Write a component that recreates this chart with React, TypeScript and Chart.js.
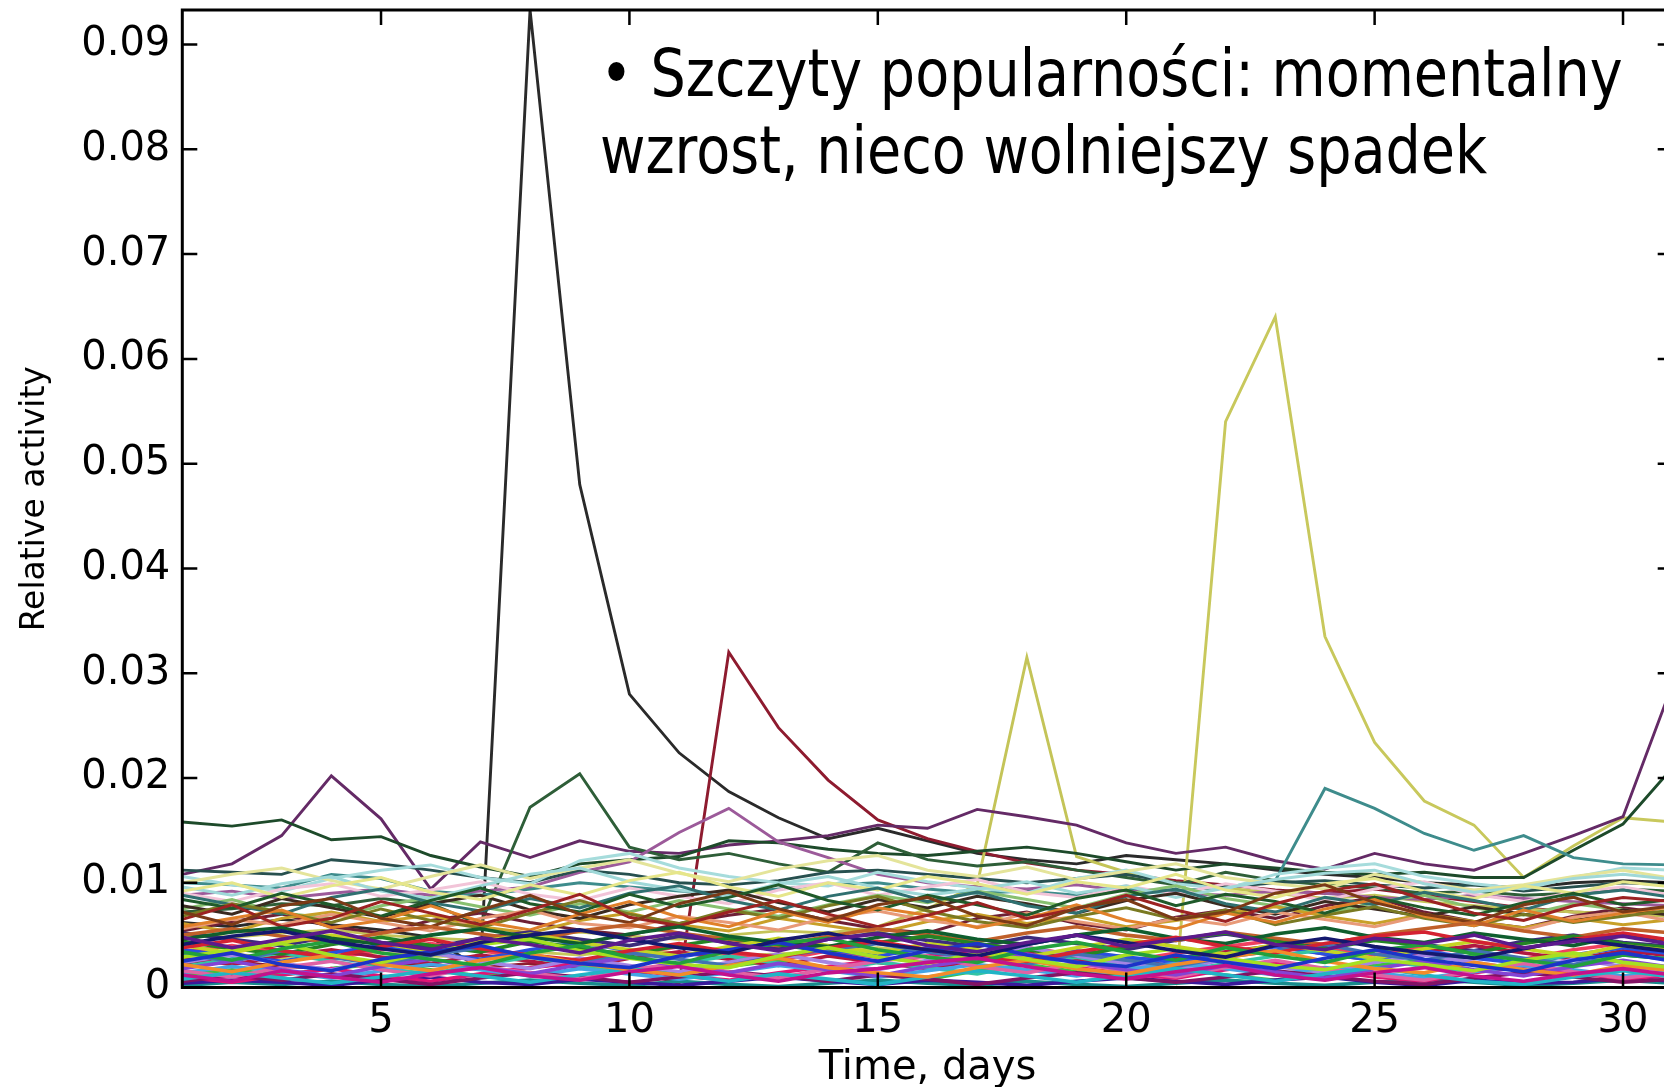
import { useEffect, useRef } from "react";
import { Chart, registerables } from "chart.js";

Chart.register(...registerables);

// ---------- axes ----------
const days = [1, 2, 3, 4, 5, 6, 7, 8, 9, 10, 11, 12, 13, 14, 15, 16, 17, 18, 19, 20, 21, 22, 23, 24, 25, 26, 27, 28, 29, 30, 31];
const xTickValues = [5, 10, 15, 20, 25, 30];
const yTickValues = [0, 0.01, 0.02, 0.03, 0.04, 0.05, 0.06, 0.07, 0.08, 0.09];
const yTickLabels = ["0", "0.01", "0.02", "0.03", "0.04", "0.05", "0.06", "0.07", "0.08", "0.09"];
const xMin = 1;
const xMax = 31;
const yMin = 0;
const yMax = 0.0933;
const xTitle = "Time, days";
const yTitle = "Relative activity";
const noteLines = ["• Szczyty popularności: momentalny", "wzrost, nieco wolniejszy spadek"];

// ---------- prominent series ----------
const peakDay8 = [.0062, .0058, .0065, .0060, .0055, .0048, .0018, .0933, .0480, .0280, .0224, .0187, .0162, .0142, .0152, .0140, .0128, .0122, .0118, .0126, .0122, .0118, .0112, .0108, .0105, .0100, .0098, .0095, .0100, .0102, .0100];
const peakDay12 = [.0022, .0025, .0020, .0018, .0024, .0021, .0019, .0023, .0020, .0017, .0004, .0320, .0248, .0198, .0160, .0142, .0130, .0119, .0112, .0108, .0102, .0098, .0093, .0090, .0094, .0088, .0082, .0076, .0072, .0070, .0068];
const peakDay18 = [.0050, .0048, .0052, .0055, .0050, .0047, .0045, .0050, .0053, .0049, .0046, .0050, .0054, .0052, .0058, .0075, .0098, .0315, .0125, .0110, .0100, .0095, .0090, .0085, .0088, .0082, .0078, .0075, .0072, .0070, .0068];
const peakDay23 = [.0030, .0032, .0028, .0035, .0033, .0030, .0029, .0034, .0031, .0036, .0033, .0030, .0032, .0035, .0038, .0034, .0031, .0036, .0033, .0030, .0004, .0540, .0640, .0335, .0234, .0178, .0155, .0105, .0135, .0162, .0158];
const purpleLine = [.0108, .0118, .0145, .0202, .0161, .0094, .0139, .0124, .0140, .0130, .0128, .0136, .0140, .0145, .0155, .0152, .0170, .0163, .0155, .0138, .0128, .0134, .0121, .0113, .0128, .0118, .0112, .0128, .0145, .0163, .0290];
const darkGreenTop = [.0158, .0154, .0160, .0141, .0144, .0126, .0115, .0106, .0118, .0122, .0125, .0140, .0138, .0132, .0128, .0126, .0130, .0134, .0128, .0120, .0112, .0118, .0114, .0110, .0108, .0110, .0105, .0105, .0131, .0156, .0210];
const greenPeak9 = [.0072, .0075, .0080, .0078, .0085, .0080, .0060, .0172, .0204, .0134, .0122, .0128, .0118, .0110, .0138, .0122, .0116, .0120, .0112, .0105, .0098, .0110, .0102, .0098, .0095, .0090, .0092, .0088, .0090, .0094, .0092];
const tealPeak24 = [.0100, .0098, .0095, .0108, .0104, .0092, .0088, .0094, .0100, .0096, .0092, .0090, .0094, .0098, .0100, .0094, .0090, .0092, .0088, .0094, .0092, .0096, .0102, .0190, .0171, .0147, .0131, .0145, .0124, .0118, .0117];
const violetPeak12 = [.0088, .0092, .0085, .0090, .0094, .0088, .0092, .0096, .0110, .0120, .0148, .0171, .0139, .0124, .0108, .0100, .0096, .0094, .0098, .0092, .0090, .0088, .0092, .0090, .0086, .0084, .0088, .0085, .0082, .0080, .0078];
const darkTealLine = [.0112, .0110, .0108, .0122, .0118, .0112, .0105, .0100, .0112, .0108, .0100, .0098, .0102, .0110, .0112, .0108, .0104, .0100, .0104, .0108, .0100, .0096, .0100, .0102, .0098, .0095, .0098, .0092, .0096, .0100, .0098];

const prominentSeries = [darkTealLine, violetPeak12, tealPeak24, greenPeak9, darkGreenTop, purpleLine, peakDay18, peakDay23, peakDay12, peakDay8];
const prominentColors = ["#27504f", "#9c5a9a", "#3e8c8c", "#2e5e38", "#1d4a2a", "#642a66", "#c4c458", "#c8c85c", "#8e1b2f", "#2a2a2a"];

// ---------- background band (upper part, ~0.005-0.013) ----------
const upperBand = [
  [.0072, .0060, .0078, .0085, .0066, .0058, .0074, .0088, .0070, .0062, .0080, .0091, .0075, .0064, .0079, .0086, .0068, .0059, .0076, .0084, .0065, .0072, .0090, .0098, .0081, .0070, .0062, .0079, .0086, .0072, .0078],
  [.0065, .0079, .0058, .0066, .0082, .0071, .0060, .0074, .0089, .0067, .0059, .0072, .0083, .0070, .0058, .0069, .0081, .0066, .0075, .0088, .0074, .0063, .0080, .0092, .0099, .0084, .0071, .0064, .0078, .0086, .0082],
  [.0058, .0066, .0074, .0057, .0064, .0078, .0063, .0055, .0070, .0082, .0067, .0058, .0073, .0062, .0076, .0069, .0057, .0066, .0079, .0064, .0056, .0071, .0062, .0075, .0084, .0068, .0059, .0074, .0063, .0071, .0077],
  [.0084, .0076, .0090, .0079, .0068, .0083, .0095, .0080, .0072, .0089, .0077, .0086, .0098, .0083, .0074, .0088, .0079, .0069, .0085, .0093, .0078, .0089, .0082, .0071, .0086, .0076, .0069, .0081, .0090, .0079, .0084],
  [.0068, .0080, .0072, .0062, .0075, .0064, .0057, .0071, .0083, .0070, .0061, .0074, .0066, .0078, .0087, .0073, .0063, .0057, .0068, .0076, .0065, .0074, .0060, .0069, .0077, .0066, .0059, .0070, .0062, .0068, .0074],
  [.0088, .0079, .0070, .0086, .0094, .0081, .0073, .0085, .0076, .0090, .0097, .0083, .0074, .0087, .0095, .0082, .0091, .0078, .0071, .0087, .0094, .0080, .0072, .0086, .0079, .0091, .0083, .0074, .0088, .0093, .0086],
  [.0056, .0065, .0060, .0070, .0062, .0054, .0066, .0074, .0061, .0057, .0068, .0062, .0055, .0067, .0073, .0064, .0058, .0071, .0063, .0056, .0066, .0060, .0072, .0065, .0058, .0069, .0061, .0055, .0067, .0072, .0063],
  [.0092, .0100, .0086, .0097, .0105, .0091, .0084, .0098, .0088, .0102, .0110, .0096, .0087, .0100, .0093, .0106, .0099, .0089, .0101, .0095, .0108, .0093, .0086, .0099, .0104, .0092, .0085, .0097, .0090, .0101, .0096],
  [.0078, .0070, .0085, .0076, .0067, .0080, .0088, .0074, .0066, .0079, .0087, .0093, .0081, .0072, .0084, .0076, .0087, .0080, .0071, .0083, .0090, .0078, .0070, .0082, .0075, .0068, .0077, .0070, .0063, .0074, .0069],
  [.0096, .0088, .0099, .0106, .0092, .0085, .0097, .0108, .0114, .0101, .0093, .0087, .0099, .0106, .0095, .0088, .0094, .0101, .0090, .0097, .0086, .0095, .0103, .0109, .0112, .0099, .0091, .0096, .0104, .0108, .0103],
  [.0061, .0053, .0066, .0072, .0063, .0069, .0058, .0052, .0064, .0071, .0060, .0054, .0066, .0059, .0052, .0063, .0070, .0061, .0068, .0058, .0064, .0071, .0077, .0068, .0061, .0070, .0063, .0057, .0066, .0060, .0065],
  [.0075, .0084, .0071, .0066, .0078, .0086, .0077, .0069, .0080, .0072, .0083, .0075, .0068, .0079, .0088, .0081, .0092, .0084, .0076, .0089, .0097, .0085, .0078, .0070, .0081, .0088, .0076, .0069, .0080, .0074, .0070],
  [.0090, .0082, .0094, .0099, .0087, .0093, .0101, .0089, .0083, .0095, .0087, .0080, .0093, .0100, .0088, .0096, .0103, .0091, .0086, .0097, .0089, .0099, .0092, .0083, .0094, .0101, .0089, .0082, .0091, .0096, .0088],
  [.0054, .0063, .0070, .0058, .0052, .0064, .0071, .0062, .0055, .0050, .0061, .0069, .0075, .0064, .0056, .0052, .0066, .0072, .0061, .0055, .0067, .0074, .0066, .0078, .0086, .0072, .0063, .0057, .0068, .0076, .0070],
  [.0100, .0108, .0114, .0102, .0094, .0106, .0117, .0104, .0114, .0122, .0109, .0101, .0113, .0121, .0126, .0112, .0106, .0115, .0103, .0111, .0118, .0105, .0099, .0094, .0108, .0100, .0093, .0098, .0106, .0112, .0104],
  [.0106, .0098, .0092, .0104, .0112, .0117, .0105, .0099, .0121, .0128, .0114, .0106, .0100, .0097, .0110, .0101, .0095, .0090, .0104, .0112, .0099, .0094, .0108, .0114, .0118, .0106, .0099, .0094, .0105, .0114, .0112],
];
const upperColors = ["#7b3a16", "#9c2222", "#e0802a", "#1f5a2a", "#7a7a22", "#2f7070", "#e89a78", "#e6e68a", "#3b2a20", "#9fd8d8", "#c8a028", "#88c070", "#f2c4d8", "#6e1f35", "#e4e49a", "#a6dcdc"];

// ---------- background band (lower part, 0-0.006) ----------
const lowerBand = [
  [.0048, .0038, .0046, .0054, .0043, .0036, .0047, .0041, .0033, .0045, .0052, .0042, .0035, .0046, .0051, .0040, .0034, .0043, .0050, .0039, .0046, .0053, .0041, .0036, .0047, .0042, .0050, .0038, .0044, .0049, .0041],
  [.0012, .0006, .0016, .0010, .0005, .0013, .0019, .0011, .0007, .0015, .0020, .0012, .0006, .0014, .0018, .0024, .0028, .0020, .0013, .0008, .0015, .0021, .0012, .0007, .0014, .0019, .0011, .0006, .0013, .0018, .0012],
  [.0041, .0049, .0054, .0044, .0037, .0031, .0043, .0050, .0055, .0046, .0038, .0033, .0045, .0052, .0042, .0036, .0030, .0041, .0050, .0043, .0035, .0029, .0040, .0047, .0039, .0033, .0028, .0037, .0046, .0040, .0034],
  [.0025, .0033, .0022, .0016, .0027, .0034, .0040, .0029, .0023, .0019, .0030, .0036, .0043, .0033, .0025, .0035, .0042, .0031, .0024, .0020, .0031, .0024, .0018, .0028, .0036, .0027, .0021, .0015, .0026, .0033, .0025],
  [.0034, .0026, .0037, .0044, .0033, .0027, .0021, .0033, .0040, .0029, .0023, .0035, .0042, .0047, .0036, .0029, .0024, .0036, .0043, .0034, .0026, .0038, .0030, .0024, .0035, .0041, .0032, .0026, .0020, .0031, .0027],
  [.0029, .0036, .0042, .0031, .0024, .0034, .0041, .0046, .0035, .0028, .0022, .0019, .0030, .0038, .0029, .0023, .0033, .0027, .0020, .0031, .0037, .0028, .0021, .0017, .0027, .0022, .0016, .0026, .0033, .0024, .0019],
  [.0022, .0015, .0024, .0031, .0022, .0016, .0026, .0032, .0023, .0017, .0012, .0021, .0028, .0019, .0014, .0010, .0019, .0026, .0018, .0013, .0022, .0029, .0035, .0025, .0018, .0014, .0024, .0017, .0012, .0021, .0016],
  [.0038, .0045, .0035, .0029, .0039, .0046, .0037, .0031, .0026, .0035, .0042, .0034, .0029, .0038, .0044, .0036, .0030, .0025, .0034, .0041, .0048, .0039, .0033, .0042, .0049, .0053, .0044, .0037, .0046, .0052, .0045],
  [.0046, .0053, .0057, .0047, .0041, .0050, .0056, .0048, .0042, .0051, .0058, .0049, .0043, .0039, .0048, .0054, .0046, .0041, .0050, .0056, .0047, .0042, .0051, .0057, .0048, .0043, .0052, .0046, .0040, .0050, .0045],
  [.0008, .0014, .0009, .0004, .0010, .0016, .0011, .0005, .0012, .0018, .0012, .0006, .0013, .0008, .0003, .0010, .0016, .0011, .0005, .0012, .0018, .0012, .0006, .0013, .0019, .0012, .0006, .0003, .0010, .0016, .0010],
  [.0018, .0025, .0017, .0011, .0020, .0027, .0019, .0013, .0022, .0029, .0020, .0014, .0023, .0017, .0011, .0020, .0027, .0032, .0024, .0017, .0012, .0021, .0015, .0009, .0018, .0025, .0017, .0011, .0020, .0026, .0019],
  [.0016, .0010, .0019, .0025, .0017, .0011, .0020, .0014, .0008, .0017, .0023, .0015, .0009, .0018, .0025, .0030, .0020, .0014, .0023, .0016, .0010, .0019, .0026, .0018, .0012, .0007, .0016, .0023, .0015, .0009, .0014],
  [.0032, .0025, .0035, .0029, .0022, .0031, .0038, .0030, .0024, .0033, .0027, .0021, .0030, .0036, .0042, .0034, .0028, .0022, .0032, .0026, .0020, .0029, .0035, .0041, .0032, .0026, .0035, .0028, .0022, .0031, .0027],
  [.0006, .0011, .0007, .0013, .0008, .0003, .0009, .0014, .0010, .0005, .0010, .0015, .0011, .0006, .0012, .0008, .0003, .0009, .0014, .0009, .0005, .0010, .0016, .0011, .0006, .0003, .0009, .0014, .0010, .0005, .0008],
  [.0014, .0020, .0015, .0009, .0016, .0022, .0017, .0011, .0018, .0013, .0008, .0014, .0021, .0016, .0010, .0016, .0022, .0017, .0011, .0017, .0023, .0018, .0012, .0019, .0014, .0009, .0015, .0021, .0017, .0011, .0015],
  [.0040, .0033, .0043, .0050, .0042, .0035, .0044, .0051, .0043, .0036, .0030, .0039, .0047, .0040, .0033, .0042, .0036, .0029, .0038, .0046, .0039, .0032, .0041, .0035, .0028, .0037, .0044, .0037, .0030, .0040, .0035],
  [.0024, .0031, .0023, .0017, .0026, .0033, .0025, .0018, .0028, .0021, .0015, .0024, .0032, .0024, .0017, .0026, .0033, .0038, .0030, .0023, .0017, .0027, .0020, .0014, .0024, .0031, .0024, .0017, .0027, .0020, .0016],
  [.0010, .0005, .0012, .0018, .0011, .0006, .0013, .0019, .0024, .0017, .0011, .0007, .0014, .0020, .0026, .0030, .0034, .0026, .0019, .0013, .0009, .0017, .0023, .0016, .0010, .0006, .0014, .0020, .0014, .0008, .0012],
  [.0044, .0037, .0032, .0041, .0048, .0040, .0034, .0044, .0038, .0031, .0040, .0047, .0041, .0034, .0043, .0049, .0042, .0036, .0030, .0039, .0046, .0052, .0044, .0037, .0045, .0040, .0033, .0042, .0049, .0042, .0038],
  [.0020, .0027, .0033, .0025, .0018, .0013, .0022, .0029, .0021, .0015, .0023, .0030, .0023, .0016, .0024, .0019, .0013, .0022, .0029, .0021, .0015, .0023, .0030, .0036, .0027, .0020, .0015, .0024, .0031, .0024, .0019],
  [.0004, .0007, .0005, .0002, .0007, .0010, .0005, .0003, .0008, .0005, .0002, .0006, .0010, .0006, .0003, .0007, .0005, .0002, .0006, .0009, .0006, .0003, .0007, .0010, .0005, .0002, .0007, .0004, .0005, .0009, .0006],
  [.0050, .0056, .0049, .0043, .0052, .0058, .0051, .0045, .0054, .0060, .0052, .0046, .0040, .0049, .0056, .0050, .0044, .0052, .0058, .0050, .0045, .0053, .0047, .0041, .0050, .0056, .0062, .0054, .0048, .0056, .0052],
  [.0036, .0030, .0025, .0033, .0040, .0033, .0027, .0036, .0043, .0035, .0029, .0037, .0044, .0036, .0030, .0038, .0032, .0026, .0035, .0029, .0024, .0032, .0039, .0032, .0026, .0035, .0028, .0023, .0031, .0038, .0032],
  [.0028, .0022, .0030, .0036, .0029, .0023, .0031, .0025, .0019, .0028, .0034, .0027, .0021, .0030, .0024, .0018, .0026, .0033, .0026, .0020, .0028, .0034, .0040, .0032, .0026, .0034, .0040, .0033, .0027, .0035, .0030],
  [.0012, .0017, .0012, .0018, .0023, .0017, .0011, .0019, .0025, .0018, .0013, .0020, .0026, .0019, .0013, .0008, .0016, .0022, .0015, .0010, .0018, .0012, .0007, .0015, .0021, .0026, .0030, .0022, .0016, .0011, .0016],
  [.0052, .0046, .0040, .0049, .0043, .0038, .0047, .0053, .0046, .0040, .0049, .0043, .0037, .0046, .0052, .0045, .0039, .0048, .0042, .0036, .0045, .0051, .0044, .0038, .0047, .0041, .0035, .0044, .0050, .0043, .0039],
  [.0034, .0040, .0033, .0027, .0036, .0042, .0035, .0029, .0023, .0032, .0039, .0032, .0026, .0035, .0029, .0024, .0032, .0038, .0031, .0025, .0033, .0039, .0045, .0038, .0031, .0039, .0033, .0027, .0036, .0042, .0036],
  [.0002, .0005, .0003, .0006, .0003, .0001, .0004, .0007, .0004, .0002, .0006, .0003, .0001, .0004, .0007, .0004, .0002, .0006, .0003, .0001, .0004, .0007, .0004, .0002, .0005, .0008, .0005, .0002, .0004, .0007, .0004],
];
const lowerColors = ["#5c1a8c", "#c4128c", "#14186e", "#1c34c8", "#22a03c", "#a6e022", "#f28c2a", "#d42232", "#0f5e2e", "#22b4c6", "#8444d4", "#e062a4", "#4272b2", "#821264", "#44a4e4", "#c4d424", "#a484e4", "#e21474", "#248424", "#34c4a4", "#3a1a9a", "#c0602a", "#2850e0", "#b01840", "#40c040", "#3c2c7c", "#f04060", "#188c8c"];

// ---------- layout constants ----------
const CANVAS_W = 1700;
const CANVAS_H = 1087;
const PLOT_LEFT = 182.3;
const PLOT_RIGHT = 1672.7;
const PLOT_TOP = 10;
const PLOT_BOTTOM = 987.5;
const TICK_LEN = 15;
const FONT = "'DejaVu Sans', sans-serif";

const framePlugin = {
  id: "matlabFrame",
  afterDatasetsDraw(chart: any) {
    const { ctx, chartArea } = chart;
    const { left, right, top, bottom } = chartArea;
    const xs = chart.scales.x;
    const ys = chart.scales.y;
    ctx.save();
    ctx.strokeStyle = "#000";
    ctx.lineWidth = 2.5;
    ctx.beginPath();
    xs.ticks.forEach((t: any) => {
      const p = xs.getPixelForValue(t.value);
      ctx.moveTo(p, bottom);
      ctx.lineTo(p, bottom - TICK_LEN);
      ctx.moveTo(p, top);
      ctx.lineTo(p, top + TICK_LEN);
    });
    ys.ticks.forEach((t: any) => {
      const p = ys.getPixelForValue(t.value);
      ctx.moveTo(left, p);
      ctx.lineTo(left + TICK_LEN, p);
      ctx.moveTo(right, p);
      ctx.lineTo(right - TICK_LEN, p);
    });
    ctx.stroke();
    ctx.lineWidth = 3;
    ctx.strokeRect(left, top, right - left, bottom - top);
    ctx.restore();
  },
};

function makeDataset(values: number[], color: string, width: number) {
  return {
    data: days.map((d, i) => ({ x: d, y: values[i] })),
    borderColor: color,
    backgroundColor: color,
    borderWidth: width,
    pointRadius: 0,
    fill: false,
    tension: 0,
    clip: 0,
  };
}

export default function App() {
  const ref = useRef<HTMLCanvasElement>(null);

  useEffect(() => {
    const canvas = ref.current;
    if (!canvas) return;
    const datasets = [
      ...lowerBand.map((v, i) => makeDataset(v, lowerColors[i % lowerColors.length], 3.6)),
      ...upperBand.map((v, i) => makeDataset(v, upperColors[i % upperColors.length], 3.0)),
      ...prominentSeries.map((v, i) => makeDataset(v, prominentColors[i], 2.9)),
    ];
    const chart = new Chart(canvas, {
      type: "line",
      data: { datasets },
      options: {
        animation: false,
        responsive: false,
        devicePixelRatio: 1,
        events: [],
        layout: { padding: { left: 0, right: CANVAS_W - PLOT_RIGHT, top: PLOT_TOP, bottom: 0 } },
        plugins: { legend: { display: false }, tooltip: { enabled: false }, title: { display: false } },
        scales: {
          x: {
            type: "linear",
            min: xMin,
            max: xMax,
            afterBuildTicks: (s: any) => {
              s.ticks = xTickValues.map((v) => ({ value: v }));
            },
            afterFit: (s: any) => {
              s.height = CANVAS_H - PLOT_BOTTOM;
              s.paddingLeft = 0;
              s.paddingRight = 0;
            },
            grid: { display: false, drawTicks: false },
            border: { display: false },
            ticks: {
              autoSkip: false,
              maxRotation: 0,
              color: "#000",
              padding: 10,
              font: { family: FONT, size: 40 },
              callback: (v: any) => String(v),
            },
            title: {
              display: true,
              text: xTitle,
              color: "#000",
              font: { family: FONT, size: 40, lineHeight: 0.9 },
              padding: { top: 0, bottom: 0 },
            },
          },
          y: {
            type: "linear",
            min: yMin,
            max: yMax,
            afterBuildTicks: (s: any) => {
              s.ticks = yTickValues.map((v) => ({ value: v }));
            },
            afterFit: (s: any) => {
              s.width = PLOT_LEFT;
              s.paddingTop = 0;
              s.paddingBottom = 0;
            },
            grid: { display: false, drawTicks: false },
            border: { display: false },
            ticks: {
              autoSkip: false,
              color: "#000",
              padding: 12,
              font: { family: FONT, size: 40 },
              callback: (_v: any, i: number) => yTickLabels[i],
            },
            title: {
              display: true,
              text: yTitle,
              color: "#000",
              font: { family: FONT, size: 33 },
              padding: { top: 16, bottom: 0 },
            },
          },
        },
      } as any,
      plugins: [framePlugin],
    });
    return () => chart.destroy();
  }, []);

  return (
    <div
      style={{
        position: "fixed",
        left: 0,
        top: 0,
        width: 1664,
        height: CANVAS_H,
        overflow: "hidden",
        background: "#fff",
      }}
    >
      <canvas
        ref={ref}
        width={CANVAS_W}
        height={CANVAS_H}
        style={{ position: "absolute", left: 0, top: 0, width: CANVAS_W, height: CANVAS_H }}
      />
      <div
        style={{
          position: "absolute",
          left: 600,
          top: 34.5,
          fontFamily: FONT,
          fontSize: 65,
          lineHeight: "77px",
          whiteSpace: "nowrap",
          transform: "scaleX(0.855)",
          transformOrigin: "0 0",
          color: "#000",
        }}
      >
        {noteLines.map((line) => (
          <div key={line}>{line}</div>
        ))}
      </div>
    </div>
  );
}
